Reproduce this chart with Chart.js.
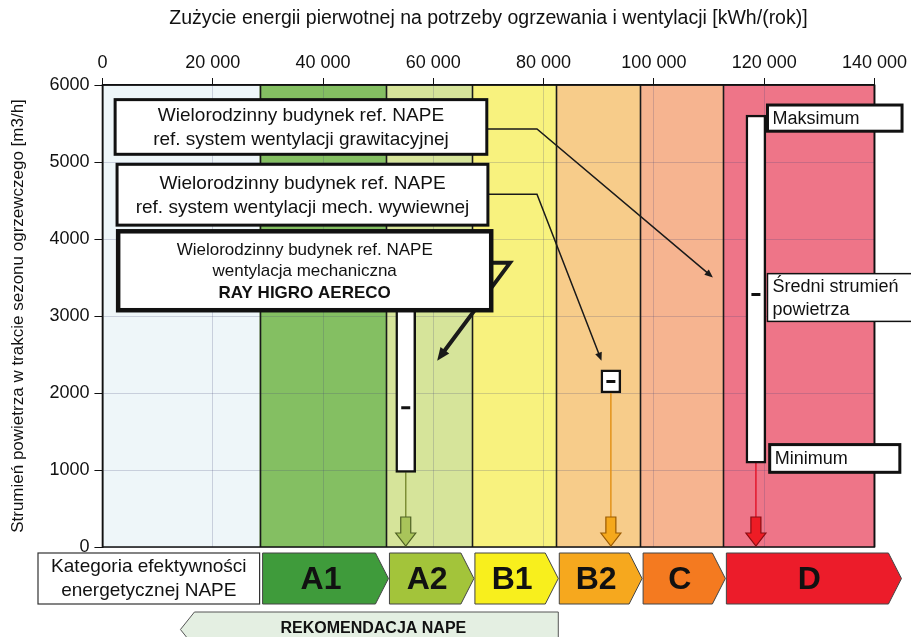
<!DOCTYPE html>
<html>
<head>
<meta charset="utf-8">
<script src="https://cdn.jsdelivr.net/npm/chart.js@4.4.1/dist/chart.umd.min.js"></script>
<style>
  html, body { margin: 0; padding: 0; background: #ffffff; }
  #wrap { width: 911px; height: 637px; position: relative; }
</style>
</head>
<body>
<div id="wrap"><canvas id="c" width="911" height="637"></canvas></div>
<script>
// ---------- DATA ----------
const xTickValues = [0, 20000, 40000, 60000, 80000, 100000, 120000, 140000];
const yTickValues = [0, 1000, 2000, 3000, 4000, 5000, 6000];
const bandEdges = [0, 28500, 51500, 67000, 82300, 97500, 112600, 140000];
const bandColors = ['#eef6f9', '#84bf62', '#d6e49a', '#f8f27e', '#f7cc8a', '#f6b490', '#ee7588'];
const categories = ['A1', 'A2', 'B1', 'B2', 'C', 'D'];
const categoryColors = ['#3f9b3b', '#a3c43a', '#f8ef1d', '#f6a81e', '#f47a20', '#ec1c2a'];

const seriesNames = ['RAY HIGRO AERECO', 'mech. wywiewna', 'grawitacyjna'];
const seriesEnergy = [55000, 92200, 118500];
const seriesMin = [970, 2000, 1090];
const seriesMax = [3220, 2300, 5610];
const seriesMean = [1810, 2150, 3280];
const dropLineColors = ['#7d8f35', '#e3921a', '#e3172c'];
const dropArrowFill = ['#a9c45a', '#f5a81c', '#ee1c25'];
const dropArrowStroke = ['#4f6124', '#9a5a00', '#8a0c12'];

const xTitle = 'Zużycie energii pierwotnej na potrzeby ogrzewania i wentylacji [kWh/(rok)]';
const yTitle = 'Strumień powietrza w trakcie sezonu ogrzewczego [m3/h]';

// ---------- ANNOTATION LAYOUT (data units) ----------
const FONT = '"Liberation Sans", Arial, sans-serif';
const infoBoxes = [
  { x0: 2300, x1: 69700, y0: 5810, y1: 5100, lw: 3, align: 'center', size: 19, lh: 1.25,
    lines: [['Wielorodzinny budynek ref. NAPE', ''], ['ref. system wentylacji grawitacyjnej', '']] },
  { x0: 2650, x1: 69900, y0: 4970, y1: 4180, lw: 3, align: 'center', size: 19, lh: 1.3,
    lines: [['Wielorodzinny budynek ref. NAPE', ''], ['ref. system wentylacji mech. wywiewnej', '']] },
  { x0: 2850, x1: 70500, y0: 4100, y1: 3075, lw: 4.5, align: 'center', size: 17, lh: 1.25,
    lines: [['Wielorodzinny budynek ref. NAPE', ''], ['wentylacja mechaniczna', ''], ['RAY HIGRO AERECO', 'bold ']] },
  { x0: 120600, x1: 145000, y0: 5740, y1: 5400, lw: 3, align: 'left', size: 18, lh: 1.2,
    lines: [['Maksimum', '']] },
  { x0: 120600, x1: 148000, y0: 3550, y1: 2930, lw: 1.5, align: 'left', size: 18, lh: 1.3,
    lines: [['Średni strumień', ''], ['powietrza', '']] },
  { x0: 121000, x1: 144600, y0: 1330, y1: 970, lw: 3, align: 'left', size: 18, lh: 1.2,
    lines: [['Minimum', '']] }
];
const connectors = [
  { pts: [[69700, 5430], [78800, 5430], [110700, 3500]], lw: 1.5, head: 9 },
  { pts: [[69900, 4580], [78800, 4580], [90500, 2420]], lw: 1.5, head: 9 },
  { pts: [[70500, 3690], [73900, 3690], [60700, 2420]], lw: 4, head: 14 }
];

function fmt(v) { return String(v).replace(/\B(?=(\d{3})+(?!\d))/g, ' '); }

function arrowHead(ctx, x1, y1, x2, y2, size) {
  const a = Math.atan2(y2 - y1, x2 - x1);
  ctx.beginPath();
  ctx.moveTo(x2, y2);
  ctx.lineTo(x2 - size * Math.cos(a - 0.4), y2 - size * Math.sin(a - 0.4));
  ctx.lineTo(x2 - size * Math.cos(a + 0.4), y2 - size * Math.sin(a + 0.4));
  ctx.closePath();
  ctx.fill();
}

const decorPlugin = {
  id: 'decor',
  beforeDraw(chart) {
    const { ctx, chartArea: ca, scales: { x, y } } = chart;
    ctx.save();
    for (let i = 0; i < bandColors.length; i++) {
      const a = x.getPixelForValue(bandEdges[i]);
      const b = x.getPixelForValue(bandEdges[i + 1]);
      ctx.fillStyle = bandColors[i];
      ctx.fillRect(a, ca.top, b - a, ca.bottom - ca.top);
    }
    ctx.restore();
  },
  beforeDatasetsDraw(chart) {
    const { ctx, chartArea: ca, scales: { x, y } } = chart;
    ctx.save();
    ctx.strokeStyle = '#1a1a1a';
    ctx.lineWidth = 1.6;
    for (let i = 1; i < bandEdges.length; i++) {
      const px = Math.round(x.getPixelForValue(bandEdges[i])) + 0.5;
      ctx.beginPath(); ctx.moveTo(px, ca.top); ctx.lineTo(px, ca.bottom); ctx.stroke();
    }
    ctx.strokeStyle = '#111';
    ctx.lineWidth = 1.5;
    ctx.strokeRect(ca.left, ca.top, ca.right - ca.left, ca.bottom - ca.top);
    const y0 = y.getPixelForValue(0);
    for (let i = 0; i < seriesEnergy.length; i++) {
      const px = x.getPixelForValue(seriesEnergy[i]);
      const pmin = y.getPixelForValue(seriesMin[i]);
      ctx.strokeStyle = dropLineColors[i];
      ctx.lineWidth = 1.5;
      ctx.beginPath(); ctx.moveTo(px, pmin); ctx.lineTo(px, y0 - 29); ctx.stroke();
      ctx.beginPath();
      ctx.moveTo(px - 5, y0 - 30);
      ctx.lineTo(px + 5, y0 - 30);
      ctx.lineTo(px + 5, y0 - 14);
      ctx.lineTo(px + 10, y0 - 14);
      ctx.lineTo(px, y0 - 1);
      ctx.lineTo(px - 10, y0 - 14);
      ctx.lineTo(px - 5, y0 - 14);
      ctx.closePath();
      ctx.fillStyle = dropArrowFill[i];
      ctx.fill();
      ctx.strokeStyle = dropArrowStroke[i];
      ctx.lineWidth = 1.2;
      ctx.stroke();
    }
    ctx.restore();
  },
  afterDatasetsDraw(chart) {
    const { ctx, chartArea: ca, scales: { x, y } } = chart;
    ctx.save();
    ctx.strokeStyle = '#1a1a1a';
    ctx.fillStyle = '#1a1a1a';
    connectors.forEach(c => {
      const p = c.pts.map(q => [x.getPixelForValue(q[0]), y.getPixelForValue(q[1])]);
      ctx.lineWidth = c.lw;
      ctx.lineJoin = 'miter';
      ctx.beginPath();
      ctx.moveTo(p[0][0], p[0][1]);
      for (let k = 1; k < p.length - 1; k++) ctx.lineTo(p[k][0], p[k][1]);
      const a = p[p.length - 2], b = p[p.length - 1];
      const ang = Math.atan2(b[1] - a[1], b[0] - a[0]);
      ctx.lineTo(b[0] - c.head * 0.7 * Math.cos(ang), b[1] - c.head * 0.7 * Math.sin(ang));
      ctx.stroke();
      arrowHead(ctx, a[0], a[1], b[0], b[1], c.head);
    });
    infoBoxes.forEach(bx => {
      const l = x.getPixelForValue(bx.x0), r = x.getPixelForValue(bx.x1);
      const t = y.getPixelForValue(bx.y0), btm = y.getPixelForValue(bx.y1);
      ctx.fillStyle = '#ffffff';
      ctx.fillRect(l, t, r - l, btm - t);
      ctx.strokeStyle = '#111';
      ctx.lineWidth = bx.lw;
      ctx.strokeRect(l, t, r - l, btm - t);
      const size = bx.size;
      const lh = size * bx.lh;
      const n = bx.lines.length;
      const cy = (t + btm) / 2;
      ctx.fillStyle = '#111';
      ctx.textBaseline = 'middle';
      bx.lines.forEach((ln, k) => {
        ctx.font = ln[1] + size + 'px ' + FONT;
        const yy = cy + (k - (n - 1) / 2) * lh + 1;
        if (bx.align === 'center') { ctx.textAlign = 'center'; ctx.fillText(ln[0], (l + r) / 2, yy); }
        else { ctx.textAlign = 'left'; ctx.fillText(ln[0], l + 5, yy); }
      });
    });
    ctx.restore();
  },
  afterDraw(chart) {
    const { ctx, chartArea: ca, scales: { x, y } } = chart;
    ctx.save();
    const top = ca.bottom + 6, bot = ca.bottom + 57;
    const lbL = 38, lbR = x.getPixelForValue(bandEdges[1]);
    ctx.fillStyle = '#fff';
    ctx.fillRect(lbL, top, lbR - lbL, bot - top);
    ctx.strokeStyle = '#333'; ctx.lineWidth = 1.2;
    ctx.strokeRect(lbL, top, lbR - lbL, bot - top);
    ctx.fillStyle = '#111';
    ctx.font = '19px ' + FONT;
    ctx.textAlign = 'center'; ctx.textBaseline = 'middle';
    ctx.fillText('Kategoria efektywności', (lbL + lbR) / 2, top + 14);
    ctx.fillText('energetycznej NAPE', (lbL + lbR) / 2, top + 38);
    for (let i = 0; i < categories.length; i++) {
      const a = x.getPixelForValue(bandEdges[i + 1]) + 3;
      let b = x.getPixelForValue(bandEdges[i + 2]) + 2;
      if (i === categories.length - 1) b = x.getPixelForValue(bandEdges[i + 2]) + 27;
      const flat = b - 13;
      ctx.beginPath();
      ctx.moveTo(a, top); ctx.lineTo(flat, top); ctx.lineTo(b, (top + bot) / 2);
      ctx.lineTo(flat, bot); ctx.lineTo(a, bot); ctx.closePath();
      ctx.fillStyle = categoryColors[i]; ctx.fill();
      ctx.strokeStyle = '#444'; ctx.lineWidth = 1; ctx.stroke();
      ctx.fillStyle = '#111';
      ctx.font = 'bold 32px ' + FONT;
      ctx.textAlign = 'center'; ctx.textBaseline = 'middle';
      ctx.fillText(categories[i], (a + flat) / 2 + 2, (top + bot) / 2 + 2);
    }
    const rL = x.getPixelForValue(bandEdges[0]) + 78, rR = x.getPixelForValue(bandEdges[4]) + 2;
    const rT = ca.bottom + 65, rB = ca.bottom + 100;
    ctx.beginPath();
    ctx.moveTo(rR, rT); ctx.lineTo(rL + 14, rT); ctx.lineTo(rL, (rT + rB) / 2);
    ctx.lineTo(rL + 14, rB); ctx.lineTo(rR, rB); ctx.closePath();
    ctx.fillStyle = '#e4efe2'; ctx.fill();
    ctx.strokeStyle = '#555'; ctx.lineWidth = 1; ctx.stroke();
    ctx.fillStyle = '#111';
    ctx.font = 'bold 16px ' + FONT;
    ctx.textAlign = 'center'; ctx.textBaseline = 'middle';
    ctx.fillText('REKOMENDACJA NAPE', (rL + rR) / 2 + 4, rT + 17);
    ctx.restore();
  }
};

const rangeData = seriesEnergy.map((e, i) => ({ x: e, y: [seriesMin[i], seriesMax[i]] }));
const meanData = seriesEnergy.map((e, i) => ({ x: e, y: seriesMean[i] }));

new Chart(document.getElementById('c'), {
  type: 'bar',
  data: {
    datasets: [
      { type: 'scatter', label: 'Średni strumień powietrza', data: meanData,
        pointStyle: 'line', pointRadius: 4.5, borderWidth: 3, borderColor: '#111',
        backgroundColor: '#111', order: 0 },
      { type: 'bar', label: 'Minimum – Maksimum', data: rangeData,
        backgroundColor: '#ffffff', borderColor: '#111', borderWidth: 2.5,
        borderSkipped: false, barThickness: 20, order: 1 }
    ]
  },
  options: {
    responsive: false,
    animation: false,
    devicePixelRatio: 1,
    layout: { padding: { left: 8, right: 36.5, top: 7, bottom: 90 } },
    plugins: { legend: { display: false }, tooltip: { enabled: false } },
    scales: {
      x: {
        type: 'linear', position: 'top', min: 0, max: 140000, offset: false,
        afterBuildTicks: s => { s.ticks = xTickValues.map(v => ({ value: v })); },
        ticks: { callback: v => fmt(v), font: { family: FONT, size: 18 }, color: '#111', padding: 4, maxRotation: 0 },
        grid: { offset: false, color: 'rgba(70,70,120,0.22)', lineWidth: 1, drawTicks: true, tickLength: 7, tickColor: '#111' },
        border: { display: true, color: '#111', width: 1.5 },
        title: { display: true, text: xTitle, font: { family: FONT, size: 19.5 }, color: '#111', padding: { top: 0, bottom: 18 } }
      },
      y: {
        type: 'linear', min: 0, max: 6000,
        afterBuildTicks: s => { s.ticks = yTickValues.map(v => ({ value: v })); },
        ticks: { callback: v => String(v), font: { family: FONT, size: 18 }, color: '#111', padding: 5 },
        grid: { color: 'rgba(70,70,120,0.22)', lineWidth: 1, drawTicks: true, tickLength: 8, tickColor: '#111' },
        border: { display: true, color: '#111', width: 1.5 },
        title: { display: true, text: yTitle, font: { family: FONT, size: 17 }, color: '#111', padding: { top: 0, bottom: 16 } }
      }
    }
  },
  plugins: [decorPlugin]
});
</script>
</body>
</html>
